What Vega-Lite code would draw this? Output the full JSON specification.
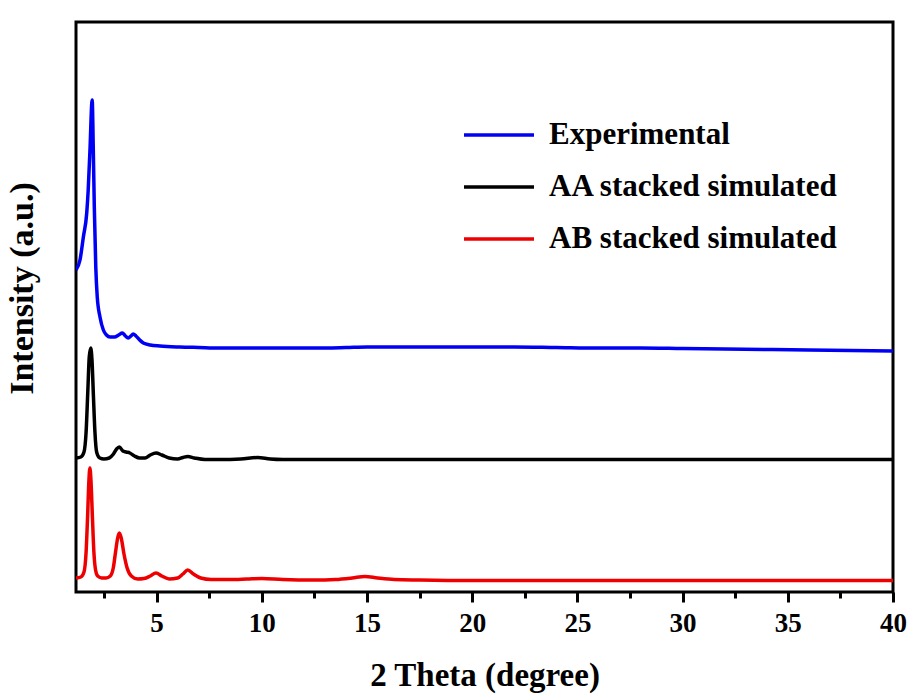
{
  "$schema": "https://vega.github.io/schema/vega-lite/v6.json",
  "width": 817,
  "height": 570,
  "autosize": {"type": "none"},
  "padding": {"left": 76, "top": 22, "right": 15, "bottom": 104},
  "background": "white",
  "config": {"view": {"stroke": "black", "strokeWidth": 3}, "font": "Liberation Serif"},
  "data": {"values": [
    {"series": "Experimental", "theta": 1.17, "intensity": 322},
    {"series": "Experimental", "theta": 1.36, "intensity": 332},
    {"series": "Experimental", "theta": 1.52, "intensity": 355},
    {"series": "Experimental", "theta": 1.68, "intensity": 379},
    {"series": "Experimental", "theta": 1.75, "intensity": 402},
    {"series": "Experimental", "theta": 1.84, "intensity": 445},
    {"series": "Experimental", "theta": 1.92, "intensity": 489},
    {"series": "Experimental", "theta": 1.94, "intensity": 492},
    {"series": "Experimental", "theta": 1.99, "intensity": 445},
    {"series": "Experimental", "theta": 2.04, "intensity": 385},
    {"series": "Experimental", "theta": 2.11, "intensity": 325},
    {"series": "Experimental", "theta": 2.18, "intensity": 295},
    {"series": "Experimental", "theta": 2.31, "intensity": 275},
    {"series": "Experimental", "theta": 2.47, "intensity": 262},
    {"series": "Experimental", "theta": 2.62, "intensity": 257},
    {"series": "Experimental", "theta": 2.79, "intensity": 255},
    {"series": "Experimental", "theta": 3.0, "intensity": 255},
    {"series": "Experimental", "theta": 3.2, "intensity": 257},
    {"series": "Experimental", "theta": 3.37, "intensity": 259},
    {"series": "Experimental", "theta": 3.52, "intensity": 256},
    {"series": "Experimental", "theta": 3.65, "intensity": 254},
    {"series": "Experimental", "theta": 3.78, "intensity": 256},
    {"series": "Experimental", "theta": 3.89, "intensity": 258},
    {"series": "Experimental", "theta": 4.02, "intensity": 256},
    {"series": "Experimental", "theta": 4.2, "intensity": 252},
    {"series": "Experimental", "theta": 4.37, "intensity": 249},
    {"series": "Experimental", "theta": 4.7, "intensity": 247},
    {"series": "Experimental", "theta": 5.16, "intensity": 246},
    {"series": "Experimental", "theta": 6.1, "intensity": 245},
    {"series": "Experimental", "theta": 7.0, "intensity": 244.5},
    {"series": "Experimental", "theta": 8.0, "intensity": 244},
    {"series": "Experimental", "theta": 9.9, "intensity": 244},
    {"series": "Experimental", "theta": 11.0, "intensity": 244},
    {"series": "Experimental", "theta": 12.5, "intensity": 244},
    {"series": "Experimental", "theta": 14.0, "intensity": 244.5},
    {"series": "Experimental", "theta": 15.0, "intensity": 245},
    {"series": "Experimental", "theta": 16.0, "intensity": 245},
    {"series": "Experimental", "theta": 18.0, "intensity": 245},
    {"series": "Experimental", "theta": 20.0, "intensity": 245},
    {"series": "Experimental", "theta": 22.0, "intensity": 245},
    {"series": "Experimental", "theta": 24.0, "intensity": 244.5},
    {"series": "Experimental", "theta": 26.0, "intensity": 244},
    {"series": "Experimental", "theta": 28.0, "intensity": 244},
    {"series": "Experimental", "theta": 30.0, "intensity": 243.5},
    {"series": "Experimental", "theta": 32.0, "intensity": 243},
    {"series": "Experimental", "theta": 34.0, "intensity": 242.5},
    {"series": "Experimental", "theta": 36.0, "intensity": 242},
    {"series": "Experimental", "theta": 38.0, "intensity": 241.5},
    {"series": "Experimental", "theta": 40.0, "intensity": 241},

    {"series": "AA stacked simulated", "theta": 1.17, "intensity": 134},
    {"series": "AA stacked simulated", "theta": 1.4, "intensity": 135},
    {"series": "AA stacked simulated", "theta": 1.55, "intensity": 140},
    {"series": "AA stacked simulated", "theta": 1.65, "intensity": 160},
    {"series": "AA stacked simulated", "theta": 1.73, "intensity": 200},
    {"series": "AA stacked simulated", "theta": 1.8, "intensity": 235},
    {"series": "AA stacked simulated", "theta": 1.87, "intensity": 244},
    {"series": "AA stacked simulated", "theta": 1.93, "intensity": 232},
    {"series": "AA stacked simulated", "theta": 2.0, "intensity": 195},
    {"series": "AA stacked simulated", "theta": 2.07, "intensity": 160},
    {"series": "AA stacked simulated", "theta": 2.15, "intensity": 140},
    {"series": "AA stacked simulated", "theta": 2.3, "intensity": 134},
    {"series": "AA stacked simulated", "theta": 2.5, "intensity": 133},
    {"series": "AA stacked simulated", "theta": 2.75, "intensity": 134},
    {"series": "AA stacked simulated", "theta": 2.95, "intensity": 138},
    {"series": "AA stacked simulated", "theta": 3.1, "intensity": 143},
    {"series": "AA stacked simulated", "theta": 3.23, "intensity": 145},
    {"series": "AA stacked simulated", "theta": 3.4, "intensity": 141},
    {"series": "AA stacked simulated", "theta": 3.55, "intensity": 140},
    {"series": "AA stacked simulated", "theta": 3.73, "intensity": 139},
    {"series": "AA stacked simulated", "theta": 3.95, "intensity": 136},
    {"series": "AA stacked simulated", "theta": 4.2, "intensity": 134},
    {"series": "AA stacked simulated", "theta": 4.45, "intensity": 134},
    {"series": "AA stacked simulated", "theta": 4.7, "intensity": 137},
    {"series": "AA stacked simulated", "theta": 4.97, "intensity": 139},
    {"series": "AA stacked simulated", "theta": 5.25, "intensity": 137},
    {"series": "AA stacked simulated", "theta": 5.6, "intensity": 134},
    {"series": "AA stacked simulated", "theta": 6.0, "intensity": 133},
    {"series": "AA stacked simulated", "theta": 6.25, "intensity": 134.5},
    {"series": "AA stacked simulated", "theta": 6.48, "intensity": 135.5},
    {"series": "AA stacked simulated", "theta": 6.8, "intensity": 134},
    {"series": "AA stacked simulated", "theta": 7.3, "intensity": 132.5},
    {"series": "AA stacked simulated", "theta": 8.0, "intensity": 132.5},
    {"series": "AA stacked simulated", "theta": 9.0, "intensity": 133},
    {"series": "AA stacked simulated", "theta": 9.8, "intensity": 134.5},
    {"series": "AA stacked simulated", "theta": 10.4, "intensity": 133},
    {"series": "AA stacked simulated", "theta": 11.0, "intensity": 132.5},
    {"series": "AA stacked simulated", "theta": 15.0, "intensity": 132.5},
    {"series": "AA stacked simulated", "theta": 20.0, "intensity": 132.5},
    {"series": "AA stacked simulated", "theta": 30.0, "intensity": 132.5},
    {"series": "AA stacked simulated", "theta": 40.0, "intensity": 132.5},

    {"series": "AB stacked simulated", "theta": 1.17, "intensity": 14},
    {"series": "AB stacked simulated", "theta": 1.4, "intensity": 15},
    {"series": "AB stacked simulated", "theta": 1.55, "intensity": 20},
    {"series": "AB stacked simulated", "theta": 1.65, "intensity": 40},
    {"series": "AB stacked simulated", "theta": 1.72, "intensity": 75},
    {"series": "AB stacked simulated", "theta": 1.78, "intensity": 110},
    {"series": "AB stacked simulated", "theta": 1.83, "intensity": 124},
    {"series": "AB stacked simulated", "theta": 1.88, "intensity": 112},
    {"series": "AB stacked simulated", "theta": 1.95, "intensity": 75},
    {"series": "AB stacked simulated", "theta": 2.02, "intensity": 40},
    {"series": "AB stacked simulated", "theta": 2.1, "intensity": 22},
    {"series": "AB stacked simulated", "theta": 2.2, "intensity": 16},
    {"series": "AB stacked simulated", "theta": 2.4, "intensity": 14},
    {"series": "AB stacked simulated", "theta": 2.6, "intensity": 14},
    {"series": "AB stacked simulated", "theta": 2.8, "intensity": 16},
    {"series": "AB stacked simulated", "theta": 2.95, "intensity": 25},
    {"series": "AB stacked simulated", "theta": 3.05, "intensity": 40},
    {"series": "AB stacked simulated", "theta": 3.15, "intensity": 54},
    {"series": "AB stacked simulated", "theta": 3.23, "intensity": 59},
    {"series": "AB stacked simulated", "theta": 3.32, "intensity": 54},
    {"series": "AB stacked simulated", "theta": 3.45, "intensity": 38},
    {"series": "AB stacked simulated", "theta": 3.6, "intensity": 24},
    {"series": "AB stacked simulated", "theta": 3.8, "intensity": 16},
    {"series": "AB stacked simulated", "theta": 4.1, "intensity": 13},
    {"series": "AB stacked simulated", "theta": 4.4, "intensity": 13.5},
    {"series": "AB stacked simulated", "theta": 4.7, "intensity": 16},
    {"series": "AB stacked simulated", "theta": 4.97, "intensity": 19},
    {"series": "AB stacked simulated", "theta": 5.25, "intensity": 16},
    {"series": "AB stacked simulated", "theta": 5.6, "intensity": 13},
    {"series": "AB stacked simulated", "theta": 6.0, "intensity": 14},
    {"series": "AB stacked simulated", "theta": 6.25, "intensity": 18},
    {"series": "AB stacked simulated", "theta": 6.48, "intensity": 22},
    {"series": "AB stacked simulated", "theta": 6.75, "intensity": 18},
    {"series": "AB stacked simulated", "theta": 7.1, "intensity": 14},
    {"series": "AB stacked simulated", "theta": 7.6, "intensity": 12.5},
    {"series": "AB stacked simulated", "theta": 8.5, "intensity": 12.5},
    {"series": "AB stacked simulated", "theta": 9.3, "intensity": 13},
    {"series": "AB stacked simulated", "theta": 10.0, "intensity": 13.5},
    {"series": "AB stacked simulated", "theta": 11.0, "intensity": 12.5},
    {"series": "AB stacked simulated", "theta": 12.5, "intensity": 12},
    {"series": "AB stacked simulated", "theta": 13.5, "intensity": 12.5},
    {"series": "AB stacked simulated", "theta": 14.3, "intensity": 14},
    {"series": "AB stacked simulated", "theta": 14.9, "intensity": 15.5},
    {"series": "AB stacked simulated", "theta": 15.5, "intensity": 14},
    {"series": "AB stacked simulated", "theta": 16.3, "intensity": 12.5},
    {"series": "AB stacked simulated", "theta": 17.5, "intensity": 12},
    {"series": "AB stacked simulated", "theta": 20.0, "intensity": 11.5},
    {"series": "AB stacked simulated", "theta": 25.0, "intensity": 11.5},
    {"series": "AB stacked simulated", "theta": 30.0, "intensity": 11.5},
    {"series": "AB stacked simulated", "theta": 35.0, "intensity": 11.5},
    {"series": "AB stacked simulated", "theta": 40.0, "intensity": 11.5}
  ]},
  "mark": {"type": "line", "strokeWidth": 3.5, "interpolate": "monotone", "clip": true},
  "encoding": {
    "x": {
      "field": "theta",
      "type": "quantitative",
      "scale": {"domain": [1.17, 40], "nice": false, "zero": false},
      "axis": {
        "title": "2 Theta (degree)",
        "titleFont": "Liberation Serif",
        "titleFontWeight": "bold",
        "titleFontSize": 33,
        "titleColor": "black",
        "titlePadding": 23,
        "values": [2.5, 5, 7.5, 10, 12.5, 15, 17.5, 20, 22.5, 25, 27.5, 30, 32.5, 35, 37.5, 40],
        "labelExpr": "datum.value % 5 === 0 ? datum.label : ''",
        "labelOverlap": false,
        "labelFlush": false,
        "labelFont": "Liberation Serif",
        "labelFontWeight": "bold",
        "labelFontSize": 27,
        "labelColor": "black",
        "labelPadding": 8,
        "grid": false,
        "domain": false,
        "tickColor": "black",
        "tickWidth": 3,
        "tickSize": {"condition": {"test": "datum.value % 5 === 0", "value": 10}, "value": 6}
      }
    },
    "y": {
      "field": "intensity",
      "type": "quantitative",
      "scale": {"domain": [0, 570], "nice": false},
      "axis": {
        "title": "Intensity (a.u.)",
        "titleFont": "Liberation Serif",
        "titleFontWeight": "bold",
        "titleFontSize": 34,
        "titleColor": "black",
        "titlePadding": 37,
        "titleY": 266,
        "labels": false,
        "ticks": false,
        "domain": false,
        "grid": false
      }
    },
    "color": {
      "field": "series",
      "type": "nominal",
      "scale": {
        "domain": ["Experimental", "AA stacked simulated", "AB stacked simulated"],
        "range": ["#0000f5", "#000000", "#ee0000"]
      },
      "legend": {
        "orient": "none",
        "legendX": 386,
        "legendY": 76,
        "title": null,
        "padding": 0,
        "symbolType": "stroke",
        "symbolSize": 4900,
        "symbolStrokeWidth": 3.5,
        "labelFont": "Liberation Serif",
        "labelFontWeight": "bold",
        "labelFontSize": 31,
        "labelColor": "black",
        "labelLimit": 500,
        "labelOffset": 13,
        "rowPadding": -19.5
      }
    }
  }
}
